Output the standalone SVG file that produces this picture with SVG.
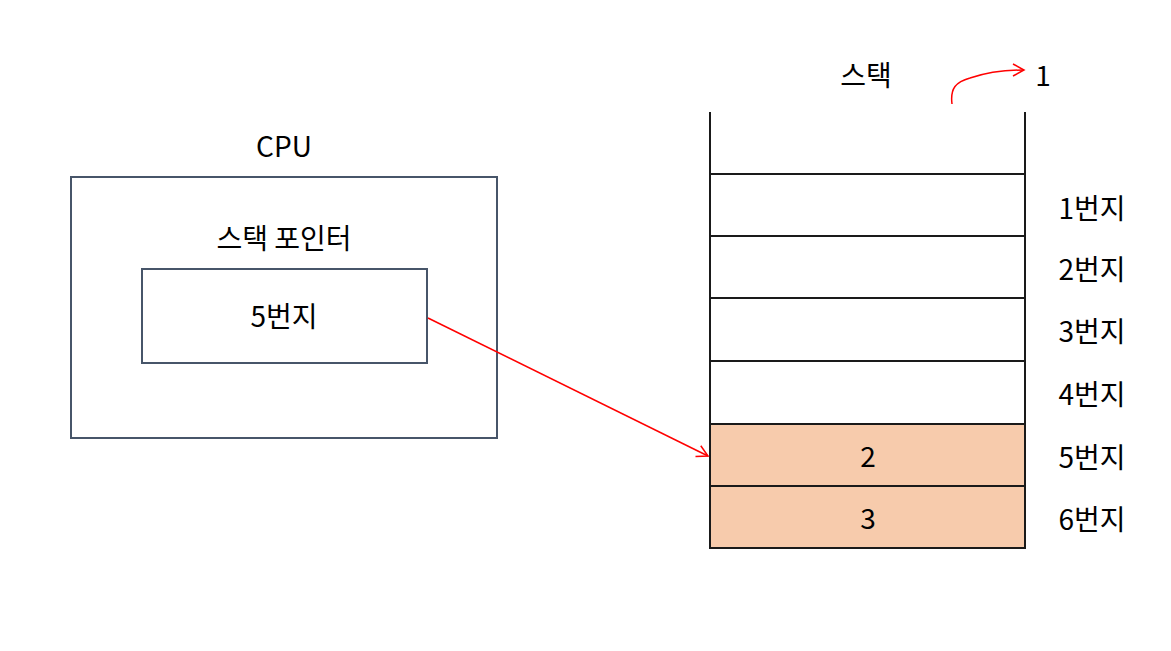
<svg xmlns="http://www.w3.org/2000/svg" width="1171" height="651" viewBox="0 0 1171 651">
<defs>
<style>
.t{font-family:"Noto Sans CJK KR","Noto Sans",sans-serif;font-size:28px;fill:#000;text-anchor:middle;dominant-baseline:central}
.box{fill:none;stroke:#475569;stroke-width:2}
.cell{stroke:#1a1a1a;stroke-width:2}
.red{fill:none;stroke:#ff0000;stroke-width:1.5}
</style>
<marker id="ah" markerWidth="14" markerHeight="14" refX="12" refY="7" orient="auto" markerUnits="userSpaceOnUse">
<path d="M1,1 L12,7 L1,13" fill="none" stroke="#ff0000" stroke-width="1.5"/>
</marker>
</defs>
<rect width="1171" height="651" fill="#fff"/>
<g id="cpu">
<text class="t" x="284" y="145">CPU</text>
<rect class="box" x="71" y="177" width="426" height="261"/>
</g>
<g id="sp">
<text class="t" x="284" y="237">스택 포인터</text>
<rect class="box" x="142" y="269" width="285" height="94"/>
<text class="t" x="284" y="315">5번지</text>
</g>
<g id="stack">
<text class="t" x="866" y="74">스택</text>
<rect x="710" y="424" width="315" height="124" fill="#f7cbac"/>
<path class="cell" fill="none" d="M710,112 V548 H1025 V112 M710,174 H1025 M710,236 H1025 M710,298 H1025 M710,361 H1025 M710,424 H1025 M710,486 H1025"/>
<text class="t" x="868" y="455">2</text>
<text class="t" x="868" y="517">3</text>
<text class="t" x="1043" y="74">1</text>
</g>
<g id="labels">
<text class="t" x="1092" y="207">1번지</text>
<text class="t" x="1092" y="268">2번지</text>
<text class="t" x="1092" y="330">3번지</text>
<text class="t" x="1092" y="393">4번지</text>
<text class="t" x="1092" y="456">5번지</text>
<text class="t" x="1092" y="518">6번지</text>
</g>
<g id="connectors">
<path class="red" d="M428,318 L708,456" marker-end="url(#ah)"/>
<path class="red" d="M952,104 C950,88 956,82 970,78 C985,73 1005,70 1024,70" marker-end="url(#ah)"/>
</g>
</svg>
